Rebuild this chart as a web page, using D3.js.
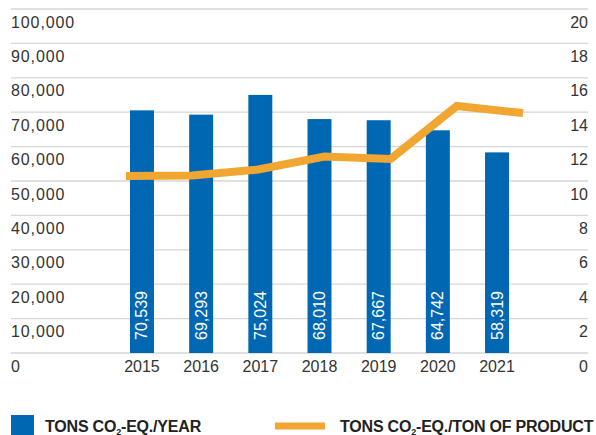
<!DOCTYPE html>
<html>
<head>
<meta charset="utf-8">
<script src="https://cdn.jsdelivr.net/npm/d3@7"></script>
<style>
  body { margin: 0; background: #fff; }
  svg { display: block; font-family: "Liberation Sans", Arial, Helvetica, sans-serif; }
</style>
</head>
<body>
<div id="grafico"></div>
<script>
// datos
const years = ["2015", "2016", "2017", "2018", "2019", "2020", "2021"];
const tonsPerYear = [70539, 69293, 75024, 68010, 67667, 64742, 58319];
const tonsPerProduct = [10.29, 10.32, 10.67, 11.42, 11.28, 14.36, 13.95];
const leftTicks = [0, 10000, 20000, 30000, 40000, 50000, 60000, 70000, 80000, 90000, 100000];
const rightTicks = [0, 2, 4, 6, 8, 10, 12, 14, 16, 18, 20];

const ancho = 596;
const alto = 435;
const gridLeft = 11;
const gridRight = 588;
const yTop = 9;
const yBottom = 353;

const azul = "#0068b3";
const naranja = "#f0a630";
const gris = "#333";

const svg = d3.select("#grafico")
	.append("svg")
	.attr("width", ancho)
	.attr("height", alto);

const yLeft = d3.scaleLinear().domain([0, 100000]).range([yBottom, yTop]);
const yRight = d3.scaleLinear().domain([0, 20]).range([yBottom, yTop]);

const xBar = d3.scaleBand()
	.domain(years)
	.range([130, 509])
	.paddingInner(0.595)
	.paddingOuter(0);

// la linea no esta alineada con las barras en el original
const xLine = d3.scalePoint()
	.domain(years)
	.range([126, 523]);

// lineas de grilla
svg.append("g")
	.selectAll("line")
	.data(leftTicks)
	.enter()
	.append("line")
	.attr("x1", gridLeft)
	.attr("x2", gridRight)
	.attr("y1", d => yLeft(d))
	.attr("y2", d => yLeft(d))
	.attr("stroke", "#d6d6d6")
	.attr("stroke-width", 1.3);

// eje izquierdo
const fmt = d3.format(",");
svg.append("g")
	.selectAll("text")
	.data(leftTicks)
	.enter()
	.append("text")
	.attr("x", gridLeft)
	.attr("y", d => yLeft(d) + 18.5)
	.attr("fill", gris)
	.style("font-size", "16px")
	.style("letter-spacing", "0.9px")
	.text(d => fmt(d));

// eje derecho
svg.append("g")
	.selectAll("text")
	.data(rightTicks)
	.enter()
	.append("text")
	.attr("x", gridRight)
	.attr("y", d => yRight(d) + 18.5)
	.attr("text-anchor", "end")
	.attr("fill", gris)
	.style("font-size", "16px")
	.text(d => d);

// barras
svg.append("g")
	.selectAll("rect")
	.data(years)
	.enter()
	.append("rect")
	.attr("x", d => xBar(d))
	.attr("y", (d, i) => yLeft(tonsPerYear[i]))
	.attr("width", xBar.bandwidth())
	.attr("height", (d, i) => yBottom - yLeft(tonsPerYear[i]))
	.attr("fill", azul);

// etiquetas dentro de las barras
svg.append("g")
	.selectAll("text")
	.data(years)
	.enter()
	.append("text")
	.attr("transform", d => "translate(" + (xBar(d) + xBar.bandwidth() / 2 + 5.5) + "," + 340 + ") rotate(-90)")
	.attr("fill", "#fff")
	.style("font-size", "16px")
	.text((d, i) => fmt(tonsPerYear[i]));

// años
svg.append("g")
	.selectAll("text")
	.data(years)
	.enter()
	.append("text")
	.attr("x", d => xBar(d) + xBar.bandwidth() / 2)
	.attr("y", yBottom + 18.5)
	.attr("text-anchor", "middle")
	.attr("fill", gris)
	.style("font-size", "16px")
	.text(d => d);

// linea
const linea = d3.line()
	.x((d, i) => xLine(years[i]))
	.y(d => yRight(d));

svg.append("path")
	.datum(tonsPerProduct)
	.attr("d", linea)
	.attr("fill", "none")
	.attr("stroke", naranja)
	.attr("stroke-width", 8)
	.attr("stroke-linejoin", "miter");

// leyenda
svg.append("rect")
	.attr("x", 11)
	.attr("y", 415)
	.attr("width", 23)
	.attr("height", 23)
	.attr("fill", azul);

function leyendaTexto(x, resto) {
	const t = svg.append("text")
		.attr("x", x)
		.attr("y", 432)
		.attr("fill", "#222")
		.style("font-size", "16px")
		.style("font-weight", "bold")
		.style("letter-spacing", "-0.2px");
	t.append("tspan").text("TONS CO");
	t.append("tspan").attr("dy", 2.5).style("font-size", "9px").text("2");
	t.append("tspan").attr("dy", -2.5).text(resto);
}

leyendaTexto(45, "-EQ./YEAR");

svg.append("line")
	.attr("x1", 275)
	.attr("x2", 325)
	.attr("y1", 426)
	.attr("y2", 426)
	.attr("stroke", naranja)
	.attr("stroke-width", 7);

leyendaTexto(340, "-EQ./TON OF PRODUCT");
</script>
</body>
</html>
